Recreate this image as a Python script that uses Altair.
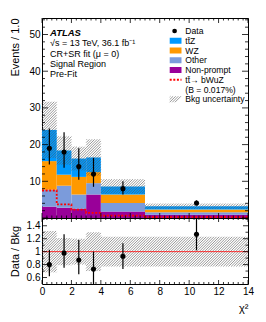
import math
import altair as alt
import pandas as pd

# ---------------- data ----------------
edges = [0, 1, 2, 3, 4, 7, 14]
nonprompt = [3.1, 2.8, 2.5, 6.4, 1.8, 0.9]
other = [4.6, 6.0, 3.9, 3.1, 2.3, 0.7]
wz = [7.8, 3.0, 4.8, 3.0, 2.3, 0.7]
ttz = [8.5, 6.6, 5.0, 4.0, 2.2, 0.9]
signal = [7.5, 3.7, 2.3, 1.4, 0.65, 0.2]
bkg_rel_unc = [0.32, 0.21, 0.20, 0.30, 0.23, 0.23]
data_val = [19.0, 18.0, 14.0, 12.0, 8.0, 4.1]
data_lo = [14.6, 13.7, 10.4, 8.5, 6.4, 3.4]
data_hi = [24.4, 23.4, 19.0, 16.4, 10.0, 4.8]
ratio_val = [0.80, 0.98, 0.87, 0.73, 0.93, 1.27]
ratio_lo = [0.62, 0.75, 0.65, 0.50, 0.73, 1.02]
ratio_hi = [1.03, 1.27, 1.18, 1.00, 1.13, 1.60]

proc_names = ["ttZ", "WZ", "Other", "Non-prompt"]
proc_colors = ["#0099ff", "#ff9900", "#7b9bdb", "#990099"]
legend_labels = ["Data", "tt\u0304Z", "WZ", "Other", "Non-prompt",
                 "tt\u0304\u2192 bWuZ", "(B = 0.017%)", "Bkg uncertainty"]
info_lines = ["ATLAS", "\u221as = 13 TeV, 36.1 fb\u207b\u00b9", "CR+SR fit (\u03bc = 0)",
              "Signal Region", "Pre-Fit"]
x_major = [0, 2, 4, 6, 8, 10, 12, 14]
yt_major = [10, 20, 30, 40, 50]
yr_major = [0.6, 0.8, 1.0, 1.2, 1.4]

# ---------------- layout / style ----------------
W, H_TOP, H_BOT = 206, 200, 66
X_DOM = [0, 14]
YT_DOM = [0, 54.5]
YR_DOM = [0.5, 1.52]
FONT = "Liberation Sans"
HATCH_STEP = 2.6
HATCH_COLOR = "#555555"

xs = alt.Scale(domain=X_DOM, nice=False, zero=False)
yts = alt.Scale(domain=YT_DOM, nice=False, zero=False)
yrs = alt.Scale(domain=YR_DOM, nice=False, zero=False)

AX_TY = alt.Axis(title="Events / 1.0", values=yt_major, format="d", ticks=False,
                 tickSize=0, domain=False, grid=False, labelPadding=2,
                 labelFontSize=10, titleFontSize=11, titleAnchor="end",
                 titleX=-22, titleBaseline="bottom", labelFlush=False)
AX_RX = alt.Axis(title="\u03c7\u00b2", values=x_major, format="d", ticks=False,
                 tickSize=0, domain=False, grid=False, labelPadding=2,
                 labelFontSize=10, titleFontSize=11, titleAnchor="end",
                 titlePadding=6, labelFlush=False)
AX_RY = alt.Axis(title="Data / Bkg", values=yr_major, format="~g", ticks=False,
                 tickSize=0, domain=False, grid=False, labelPadding=2,
                 labelFontSize=10, titleFontSize=11, titleAnchor="middle",
                 titleX=-22, titleBaseline="bottom", labelFlush=False)

n = len(data_val)
centers = [(edges[i] + edges[i + 1]) / 2 for i in range(n)]

# stacked backgrounds
stack_rows = []
base = [0.0] * n
for name, vals in [("Non-prompt", nonprompt), ("Other", other), ("WZ", wz), ("ttZ", ttz)]:
    for i in range(n):
        stack_rows.append(dict(proc=name, x0=edges[i], x1=edges[i + 1],
                               y0=base[i], y1=base[i] + vals[i]))
    base = [base[i] + vals[i] for i in range(n)]
total = base
stack_df = pd.DataFrame(stack_rows)

sig_df = pd.DataFrame({"x": edges, "y": signal + [signal[-1]]})
data_df = pd.DataFrame({"x": centers, "v": data_val, "lo": data_lo, "hi": data_hi})
ratio_df = pd.DataFrame({"x": centers, "v": ratio_val, "lo": ratio_lo, "hi": ratio_hi})


def hatch(x0s, x1s, los, his, height, ydom):
    sx = W / (X_DOM[1] - X_DOM[0])
    sy = height / (ydom[1] - ydom[0])
    rows = []
    for x0, x1, lo, hi in zip(x0s, x1s, los, his):
        X0, X1 = (x0 - X_DOM[0]) * sx, (x1 - X_DOM[0]) * sx
        Y0, Y1 = (lo - ydom[0]) * sy, (hi - ydom[0]) * sy
        kmin = math.floor((Y0 - X1) / HATCH_STEP)
        kmax = math.ceil((Y1 - X0) / HATCH_STEP)
        for k in range(kmin, kmax + 1):
            c = k * HATCH_STEP
            xa = max(X0, Y0 - c)
            xb = min(X1, Y1 - c)
            if xb - xa > 0.1:
                rows.append(dict(x=xa / sx + X_DOM[0], y=(xa + c) / sy + ydom[0],
                                 x2=xb / sx + X_DOM[0], y2=(xb + c) / sy + ydom[0]))
    return pd.DataFrame(rows)


band_top = hatch(edges[:-1], edges[1:],
                 [t * (1 - r) for t, r in zip(total, bkg_rel_unc)],
                 [t * (1 + r) for t, r in zip(total, bkg_rel_unc)], H_TOP, YT_DOM)
band_bot = hatch(edges[:-1], edges[1:],
                 [1 - r for r in bkg_rel_unc], [1 + r for r in bkg_rel_unc], H_BOT, YR_DOM)


def ticks_y(vals, scale, axis, length, width_px):
    df = pd.DataFrame({"v": vals})
    b = alt.Chart(df).mark_rule(color="black", strokeWidth=0.8)
    return [
        b.encode(y=alt.Y("v:Q", scale=scale, axis=axis), x=alt.value(0), x2=alt.value(length)),
        b.encode(y=alt.Y("v:Q", scale=scale, axis=axis), x=alt.value(width_px - length),
                 x2=alt.value(width_px)),
    ]


def ticks_x(vals, axis, length, height):
    df = pd.DataFrame({"v": vals})
    b = alt.Chart(df).mark_rule(color="black", strokeWidth=0.8)
    return [
        b.encode(x=alt.X("v:Q", scale=xs, axis=axis), y=alt.value(height), y2=alt.value(height - length)),
        b.encode(x=alt.X("v:Q", scale=xs, axis=axis), y=alt.value(0), y2=alt.value(length)),
    ]


def text_at(x, y, s, size=9, **kw):
    return alt.Chart(pd.DataFrame({"t": [s]})).mark_text(
        align="left", baseline="middle", font=FONT, fontSize=size, color="black", **kw
    ).encode(x=alt.value(x), y=alt.value(y), text="t:N")


x_minor = [k / 3 for k in range(43) if k % 6 != 0]
yt_minor = [v for v in range(2, 55, 2) if v % 10 != 0]
yr_minor = [0.7, 0.9, 1.1, 1.3, 1.5]

# ---------------- top panel ----------------
top_layers = []
top_layers.append(
    alt.Chart(stack_df).mark_rect(strokeWidth=0).encode(
        x=alt.X("x0:Q", scale=xs, axis=None),
        x2="x1:Q",
        y=alt.Y("y0:Q", scale=yts, axis=AX_TY),
        y2="y1:Q",
        color=alt.Color("proc:N", scale=alt.Scale(domain=proc_names, range=proc_colors), legend=None),
    )
)
top_layers.append(
    alt.Chart(sig_df).mark_line(interpolate="step-after", color="#ff0000", strokeWidth=1.8,
                                strokeDash=[2, 1.6]).encode(
        x=alt.X("x:Q", scale=xs, axis=None), y=alt.Y("y:Q", scale=yts, axis=AX_TY))
)
top_layers.append(
    alt.Chart(band_top).mark_rule(color=HATCH_COLOR, strokeWidth=0.6).encode(
        x=alt.X("x:Q", scale=xs, axis=None), y=alt.Y("y:Q", scale=yts, axis=AX_TY),
        x2="x2:Q", y2="y2:Q")
)
top_layers.append(
    alt.Chart(data_df).mark_rule(color="black", strokeWidth=1.2).encode(
        x=alt.X("x:Q", scale=xs, axis=None), y=alt.Y("lo:Q", scale=yts, axis=AX_TY), y2="hi:Q")
)
top_layers.append(
    alt.Chart(data_df).mark_circle(color="black", size=26, opacity=1).encode(
        x=alt.X("x:Q", scale=xs, axis=None), y=alt.Y("v:Q", scale=yts, axis=AX_TY))
)
top_layers += ticks_y(yt_major + [0], yts, AX_TY, 6, W)
top_layers += ticks_y(yt_minor, yts, AX_TY, 3, W)
top_layers += ticks_x(x_major, None, 5, H_TOP)
top_layers += ticks_x(x_minor, None, 2.5, H_TOP)

# info text
info_y0, info_dy = 14.7, 10.4
for i, s in enumerate(info_lines):
    if i == 0:
        top_layers.append(text_at(8, info_y0, s, size=9.5, fontStyle="italic", fontWeight="bold"))
    else:
        top_layers.append(text_at(8, info_y0 + i * info_dy, s, size=9))

# legend
lg_x0, lg_x1, lg_tx = 127.7, 139.5, 143.3
lg_y0, lg_dy = 13, 9.75
for i, lab in enumerate(legend_labels):
    yy = lg_y0 + i * lg_dy
    top_layers.append(text_at(lg_tx, yy, lab, size=8.6))
    if lab == "Data":
        top_layers.append(
            alt.Chart(pd.DataFrame({"a": [0]})).mark_circle(color="black", size=22, opacity=1)
            .encode(x=alt.value((lg_x0 + lg_x1) / 2 - 1), y=alt.value(yy)))
    elif 1 <= i <= 4:
        col = proc_colors[i - 1]
        top_layers.append(
            alt.Chart(pd.DataFrame({"a": [0]})).mark_rect(color=col)
            .encode(x=alt.value(lg_x0), x2=alt.value(lg_x1), y=alt.value(yy - 3), y2=alt.value(yy + 3)))
    elif i == 5:
        top_layers.append(
            alt.Chart(pd.DataFrame({"a": [0]})).mark_rule(color="#ff0000", strokeWidth=1.8,
                                                          strokeDash=[2, 1.6])
            .encode(x=alt.value(lg_x0), x2=alt.value(lg_x1), y=alt.value(yy), y2=alt.value(yy)))
    elif i == 7:
        for k in range(-2, 6):
            c = k * HATCH_STEP
            xa = max(0.0, -c)
            xb = min(lg_x1 - lg_x0, 6 - c)
            if xb - xa > 0.1:
                top_layers.append(
                    alt.Chart(pd.DataFrame({"a": [0]})).mark_rule(color=HATCH_COLOR, strokeWidth=0.6)
                    .encode(x=alt.value(lg_x0 + xa), y=alt.value(yy + 3 - (xa + c)),
                            x2=alt.value(lg_x0 + xb), y2=alt.value(yy + 3 - (xb + c))))

top = alt.layer(*top_layers).properties(width=W, height=H_TOP)

# ---------------- ratio panel ----------------
bot_layers = []
bot_layers.append(
    alt.Chart(band_bot).mark_rule(color=HATCH_COLOR, strokeWidth=0.6).encode(
        x=alt.X("x:Q", scale=xs, axis=AX_RX),
        y=alt.Y("y:Q", scale=yrs, axis=AX_RY),
        x2="x2:Q", y2="y2:Q")
)
bot_layers.append(
    alt.Chart(pd.DataFrame({"v": [1.0]})).mark_rule(color="#ff0000", strokeWidth=0.8).encode(
        y=alt.Y("v:Q", scale=yrs, axis=AX_RY))
)
bot_layers.append(
    alt.Chart(ratio_df).mark_rule(color="black", strokeWidth=1.2, clip=True).encode(
        x=alt.X("x:Q", scale=xs, axis=AX_RX), y=alt.Y("lo:Q", scale=yrs, axis=AX_RY), y2="hi:Q")
)
bot_layers.append(
    alt.Chart(ratio_df).mark_circle(color="black", size=26, opacity=1).encode(
        x=alt.X("x:Q", scale=xs, axis=AX_RX), y=alt.Y("v:Q", scale=yrs, axis=AX_RY))
)
bot_layers += ticks_y(yr_major, yrs, AX_RY, 5, W)
bot_layers += ticks_y(yr_minor, yrs, AX_RY, 2.5, W)
bot_layers += ticks_x(x_major, AX_RX, 4, H_BOT)
bot_layers += ticks_x(x_minor, AX_RX, 2, H_BOT)

bottom = alt.layer(*bot_layers).properties(width=W, height=H_BOT)

chart = alt.vconcat(top, bottom, spacing=0, bounds="flush").properties(
    padding={"left": 0, "top": 9, "right": 0, "bottom": 0}
).configure_view(stroke="black", strokeWidth=1).configure_axis(
    labelFont=FONT, titleFont=FONT, labelColor="black", titleColor="black",
    titleFontWeight="normal"
).configure_text(font=FONT)

chart.save("out.html", embed_options={"renderer": "svg", "actions": False})
